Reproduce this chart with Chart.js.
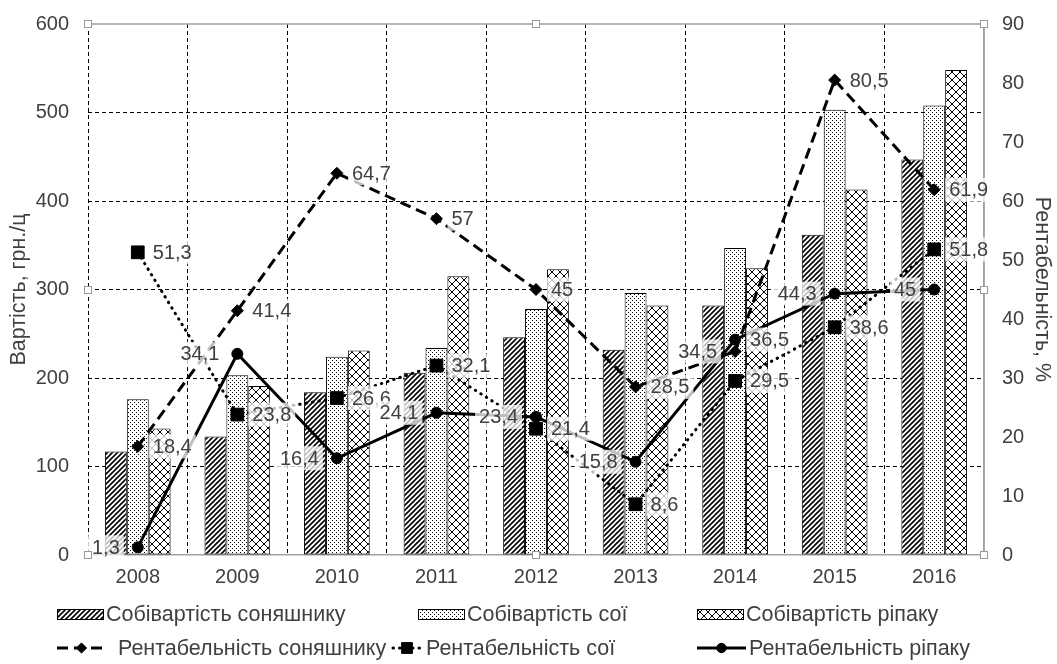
<!DOCTYPE html>
<html>
<head>
<meta charset="utf-8">
<script src="https://cdn.jsdelivr.net/npm/chart.js@4.4.1/dist/chart.umd.min.js"></script>
<style>
  html, body { margin: 0; padding: 0; background: #fff; }
  #wrap { width: 1057px; height: 664px; }
</style>
</head>
<body>
<div id="wrap"><canvas id="chart" width="1057" height="664"></canvas></div>
<script>
// Роки
const years = ['2008', '2009', '2010', '2011', '2012', '2013', '2014', '2015', '2016'];

// Собівартість, грн./ц
const costSunflower = [117, 134, 184, 206, 246, 232, 282, 362, 447];
const costSoy       = [176, 203, 224, 234, 278, 296, 347, 503, 508];
const costRapeseed  = [143, 191, 231, 315, 323, 282, 324, 413, 548];

// Рентабельність, %
const profitSunflower = [18.4, 41.4, 64.7, 57, 45, 28.5, 34.5, 80.5, 61.9];
const profitSoy       = [51.3, 23.8, 26.6, 32.1, 21.4, 8.6, 29.5, 38.6, 51.8];
const profitRapeseed  = [1.3, 34.1, 16.4, 24.1, 23.4, 15.8, 36.5, 44.3, 45];

// Axis ranges
const costMax = 600, costStep = 100;
const profitMax = 90, profitStep = 10;

// Which side of the point each value label sits on
const sideSunflower = ['r', 'r', 'r', 'r', 'r', 'r', 'l', 'r', 'r'];
const sideSoy       = ['r', 'r', 'r', 'r', 'r', 'r', 'r', 'r', 'r'];
const sideRapeseed  = ['l', 'l', 'l', 'l', 'l', 'l', 'r', 'l', 'l'];

const FONT_FAMILY = '"Liberation Sans", Arial, sans-serif';
const FONT_SIZE = 20;      // ticks and value labels
const TEXT_SIZE = 21.5;    // titles and legend
const TEXT = '#404040';
const FRAME = '#a0a0a0';

function makePattern(kind) {
  const c = document.createElement('canvas');
  const g = c.getContext('2d');
  if (kind === 'hatch') {
    const s = 5;
    c.width = c.height = s;
    g.fillStyle = '#fff'; g.fillRect(0, 0, s, s);
    g.strokeStyle = '#000'; g.lineWidth = 1.6;
    g.beginPath();
    g.moveTo(-1, s + 1); g.lineTo(s + 1, -1);
    g.moveTo(-1, 1); g.lineTo(1, -1);
    g.moveTo(s - 1, s + 1); g.lineTo(s + 1, s - 1);
    g.stroke();
  } else if (kind === 'dots') {
    const s = 4;
    c.width = c.height = s;
    g.fillStyle = '#fff'; g.fillRect(0, 0, s, s);
    g.fillStyle = '#000';
    g.fillRect(0, 0, 1, 1);
    g.fillRect(2, 2, 1, 1);
  } else {
    const s = 8;
    c.width = c.height = s;
    g.fillStyle = '#fff'; g.fillRect(0, 0, s, s);
    g.strokeStyle = '#000'; g.lineWidth = 1;
    g.beginPath();
    g.moveTo(0, 0); g.lineTo(s, s);
    g.moveTo(0, s); g.lineTo(s, 0);
    g.stroke();
  }
  return g.createPattern(c, 'repeat');
}

const patHatch = makePattern('hatch');
const patDots = makePattern('dots');
const patCross = makePattern('cross');

const barBase = {
  type: 'bar', yAxisID: 'y', borderColor: '#000', borderWidth: 1,
  borderSkipped: false, order: 10, categoryPercentage: 0.66, barPercentage: 1
};
const lineBase = {
  type: 'line', yAxisID: 'y1', borderColor: '#000', backgroundColor: '#000',
  pointBackgroundColor: '#000', pointBorderColor: '#000', borderWidth: 3,
  tension: 0, fill: false, order: 1, pointBorderWidth: 1
};

const datasets = [
  Object.assign({}, barBase, { label: 'Собівартість соняшнику', data: costSunflower, backgroundColor: patHatch }),
  Object.assign({}, barBase, { label: 'Собівартість сої', data: costSoy, backgroundColor: patDots }),
  Object.assign({}, barBase, { label: 'Собівартість ріпаку', data: costRapeseed, backgroundColor: patCross }),
  Object.assign({}, lineBase, { label: 'Рентабельність соняшнику', data: profitSunflower, borderDash: [11, 6],
    pointStyle: 'rectRot', pointRadius: 6, sides: sideSunflower }),
  Object.assign({}, lineBase, { label: 'Рентабельність сої', data: profitSoy, borderDash: [0.5, 6], borderCapStyle: 'round',
    pointStyle: 'rect', pointRadius: 9, sides: sideSoy }),
  Object.assign({}, lineBase, { label: 'Рентабельність ріпаку', data: profitRapeseed,
    pointStyle: 'circle', pointRadius: 5.5, sides: sideRapeseed })
];

// Value labels next to the line points
const valueLabels = {
  id: 'valueLabels',
  afterDatasetsDraw(chart) {
    const ctx = chart.ctx;
    ctx.save();
    ctx.font = FONT_SIZE + 'px ' + FONT_FAMILY;
    ctx.textBaseline = 'middle';
    chart.data.datasets.forEach((ds, di) => {
      if (ds.type !== 'line') return;
      const meta = chart.getDatasetMeta(di);
      meta.data.forEach((pt, i) => {
        const txt = String(ds.data[i]).replace('.', ',');
        const w = ctx.measureText(txt).width;
        const right = ds.sides[i] === 'r';
        const x0 = right ? pt.x + 15 : pt.x - 18 - w;
        ctx.fillStyle = 'rgba(255,255,255,0.75)';
        ctx.fillRect(x0 - 4, pt.y - 12, w + 8, 24);
        ctx.fillStyle = TEXT;
        ctx.textAlign = 'left';
        ctx.fillText(txt, x0, pt.y + 1);
      });
    });
    ctx.restore();
  }
};

// Plot frame (grey top/right edges) and selection handles
const frame = {
  id: 'frame',
  beforeDatasetsDraw(chart) {
    const { ctx, chartArea: a } = chart;
    ctx.save();
    ctx.strokeStyle = FRAME; ctx.lineWidth = 1.5;
    ctx.beginPath();
    ctx.moveTo(a.left, a.top); ctx.lineTo(a.right, a.top); ctx.lineTo(a.right, a.bottom);
    ctx.stroke();
    ctx.restore();
  },
  afterDraw(chart) {
    const { ctx, chartArea: a } = chart;
    const mx = (a.left + a.right) / 2, my = (a.top + a.bottom) / 2;
    const pts = [[a.left, a.top], [mx, a.top], [a.right, a.top], [a.left, my], [a.right, my],
                 [a.left, a.bottom], [mx, a.bottom], [a.right, a.bottom]];
    ctx.save();
    ctx.fillStyle = '#fff'; ctx.strokeStyle = '#999'; ctx.lineWidth = 1;
    pts.forEach(([x, y]) => {
      ctx.fillRect(Math.round(x) - 3.5, Math.round(y) - 3.5, 7, 7);
      ctx.strokeRect(Math.round(x) - 3.5, Math.round(y) - 3.5, 7, 7);
    });
    ctx.restore();
  }
};

// Legend in three columns under the axis
const legendBlock = {
  id: 'legendBlock',
  afterDraw(chart) {
    const ctx = chart.ctx;
    const ds = chart.data.datasets;
    const row1 = 614, row2 = 648;
    const cols = [57, 418, 697];
    ctx.save();
    ctx.font = TEXT_SIZE + 'px ' + FONT_FAMILY;
    ctx.textBaseline = 'middle';
    ctx.textAlign = 'left';
    // bar swatches
    for (let k = 0; k < 3; k++) {
      const x = cols[k];
      ctx.fillStyle = ds[k].backgroundColor;
      ctx.fillRect(x, row1 - 5, 46, 10);
      ctx.strokeStyle = '#000'; ctx.lineWidth = 1;
      ctx.strokeRect(x + 0.5, row1 - 5 + 0.5, 46, 10);
      ctx.fillStyle = TEXT;
      ctx.fillText(ds[k].label, x + 49, row1 + 1);
    }
    // line symbols
    const lineItems = [
      { d: ds[3], x1: 57, x2: 106, tx: 118 },
      { d: ds[4], x1: 393, x2: 421, tx: 426 },
      { d: ds[5], x1: 697, x2: 746, tx: 749 }
    ];
    lineItems.forEach(it => {
      const d = it.d;
      ctx.save();
      ctx.strokeStyle = '#000'; ctx.lineWidth = d.borderWidth;
      ctx.lineCap = d.borderCapStyle || 'butt';
      ctx.setLineDash(d.borderDash || []);
      ctx.beginPath(); ctx.moveTo(it.x1, row2); ctx.lineTo(it.x2, row2); ctx.stroke();
      ctx.restore();
      ctx.fillStyle = '#000'; ctx.strokeStyle = '#000';
      Chart.helpers.drawPoint(ctx, { pointStyle: d.pointStyle, radius: d.pointRadius * 0.85, rotation: 0, borderWidth: 1 },
        (it.x1 + it.x2) / 2, row2);
      ctx.fillStyle = TEXT;
      ctx.fillText(d.label, it.tx, row2 + 1);
    });
    ctx.restore();
  }
};

new Chart(document.getElementById('chart'), {
  data: { labels: years, datasets: datasets },
  options: {
    responsive: false,
    animation: false,
    devicePixelRatio: 1,
    layout: { padding: { top: 24, left: 0, right: 0, bottom: 0 } },
    plugins: { legend: { display: false }, tooltip: { enabled: false } },
    scales: {
      x: {
        offset: true,
        grid: { color: '#000', lineWidth: 1, offset: true, drawTicks: false },
        border: { display: true, color: FRAME, width: 1.5, dash: [4, 3] },
        ticks: { color: TEXT, padding: 10, font: { family: FONT_FAMILY, size: FONT_SIZE } },
        afterFit(s) { s.height = 109; }
      },
      y: {
        position: 'left', min: 0, max: costMax,
        ticks: { stepSize: costStep, color: TEXT, padding: 19, font: { family: FONT_FAMILY, size: FONT_SIZE } },
        grid: {
          drawTicks: false, lineWidth: 1,
          color: c => (c.tick && (c.tick.value === 0 || c.tick.value === costMax)) ? 'rgba(0,0,0,0)' : '#000'
        },
        border: { display: false, dash: [4, 3] },
        title: { display: true, text: 'Вартість, грн./ц', color: TEXT, padding: { top: 6, bottom: 0 },
          font: { family: FONT_FAMILY, size: TEXT_SIZE } },
        afterFit(s) { s.width = 88; s.paddingTop = 0; s.paddingBottom = 0; }
      },
      y1: {
        position: 'right', min: 0, max: profitMax,
        ticks: { stepSize: profitStep, color: TEXT, padding: 18, font: { family: FONT_FAMILY, size: FONT_SIZE } },
        grid: { drawOnChartArea: false, drawTicks: false },
        border: { display: true, color: FRAME, width: 1.5 },
        title: { display: true, text: 'Рентабельність, %', color: TEXT, padding: { top: 2, bottom: 0 },
          font: { family: FONT_FAMILY, size: TEXT_SIZE } },
        afterFit(s) { s.width = 73; s.paddingTop = 0; s.paddingBottom = 0; }
      }
    }
  },
  plugins: [frame, valueLabels, legendBlock]
});
</script>
</body>
</html>
